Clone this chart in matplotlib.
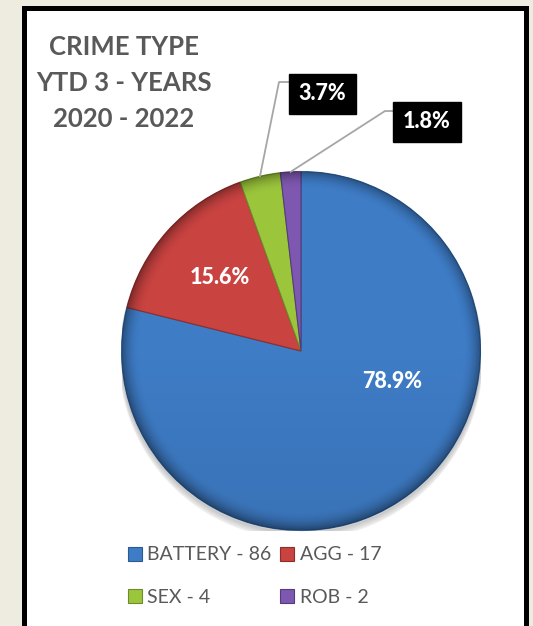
import matplotlib.pyplot as plt
import numpy as np
from matplotlib.patches import Rectangle, Circle

# data
categories = ["BATTERY", "AGG", "SEX", "ROB"]
counts = [86, 17, 4, 2]
colors = ["#3E7CC6", "#C94341", "#9BC63C", "#7E58B0"]
edge_colors = ["#2C5A92", "#8E2E2C", "#6E8C2A", "#553B7A"]

W, H = 533, 626
fig = plt.figure(figsize=(W / 100, H / 100), dpi=100)
fig.patch.set_facecolor("#EEECE1")


def fx(px):
    return px / W


def fy(py):
    return 1 - py / H


# white panel with thick black border (bottom runs off the image)
frame = Rectangle((fx(23.5), fy(640)), fx(525.5) - fx(23.5), fy(8) - fy(640),
                  transform=fig.transFigure, facecolor="white",
                  edgecolor="black", linewidth=3.6, zorder=-5)
fig.patches.append(frame)

# pie axes: center (301, 351) px, radius 179.5 px
cx, cy, R = 301, 351, 179.5
ax = fig.add_axes([fx(cx - R), fy(cy + R), 2 * R / W, 2 * R / H])
ax.set_zorder(2)

# soft shadow below the pie
for k in range(5):
    sh = Circle((0.0, -0.015 - 0.005 * k), 1.0 + 0.003 * k, color="black",
                alpha=0.04, zorder=0)
    ax.add_patch(sh)

wedges, _ = ax.pie(counts, colors=colors, startangle=90, counterclock=False,
                   radius=1.0, frame=True,
                   wedgeprops=dict(linewidth=0.8))
for w, ec in zip(wedges, edge_colors):
    w.set_edgecolor(ec)
ax.set_xlim(-1, 1)
ax.set_ylim(-1, 1)
ax.axis("off")

# bevel-like shading: darker toward the rim, clipped to the circle
n = 400
yy, xx = np.mgrid[-1:1:n * 1j, -1:1:n * 1j]
rr = np.sqrt(xx ** 2 + yy ** 2)
shade = np.zeros((n, n, 4))
alpha = np.clip((rr - 0.9) / 0.1, 0, 1) ** 2 * 0.35
alpha += np.clip(-yy, 0, 1) * 0.08
shade[..., 3] = alpha
im = ax.imshow(shade, extent=(-1, 1, -1, 1), origin="lower", zorder=3)
im.set_clip_path(Circle((0, 0), 1.0, transform=ax.transData))
ax.set_xlim(-1, 1)
ax.set_ylim(-1, 1)

total = sum(counts)
pcts = [100 * c / total for c in counts]
lbl_font = dict(family="Lato", weight=900, size=15.5, color="white")

# inside labels
ax.text(0.51, -0.17, f"{pcts[0]:.1f}%", ha="center", va="center", zorder=5,
        **lbl_font)
ang = np.deg2rad((wedges[1].theta1 + wedges[1].theta2) / 2)
ax.text(0.61 * np.cos(ang), 0.61 * np.sin(ang), f"{pcts[1]:.1f}%",
        ha="center", va="center", zorder=5, **lbl_font)


def d(px, py):
    return ((px - cx) / R, (cy - py) / R)


# outside labels with leader lines
boxes = [(2, (322, 94), (279, 82), (290, 82)),
         (3, (427, 122), (385, 111), (395, 111))]
for i, center, elbow, end in boxes:
    ang = np.deg2rad((wedges[i].theta1 + wedges[i].theta2) / 2)
    p0 = (np.cos(ang), np.sin(ang))
    e1 = d(*elbow)
    e2 = d(*end)
    ax.plot([p0[0], e1[0], e2[0]], [p0[1], e1[1], e2[1]], color="#A6A6A6",
            lw=1.3, clip_on=False, zorder=4)
    tx, ty = d(*center)
    ax.text(tx, ty, f"{pcts[i]:.1f}%", ha="center", va="center", zorder=6,
            clip_on=False,
            bbox=dict(boxstyle="square,pad=0.45", facecolor="black",
                      edgecolor="black"), **lbl_font)

# title
fig.text(fx(124), fy(83), "CRIME TYPE\nYTD 3 - YEARS\n2020 - 2022",
         ha="center", va="center", multialignment="center", family="Lato",
         weight="bold", size=18.5, color="#595959", linespacing=1.62)

# legend
labels = [f"{c} - {v}" for c, v in zip(categories, counts)]
order = [0, 2, 1, 3]
leg = fig.legend([wedges[k] for k in order], [labels[k] for k in order],
                 ncol=2, loc="upper left",
                 bbox_to_anchor=(fx(110), fy(529)), frameon=False,
                 prop=dict(family="Lato", size=14),
                 handlelength=0.72, handleheight=0.72, handletextpad=0.3,
                 columnspacing=0.45, labelspacing=1.3)
for t in leg.get_texts():
    t.set_color("#595959")

fig.savefig("out.png", dpi=100, facecolor=fig.get_facecolor())
